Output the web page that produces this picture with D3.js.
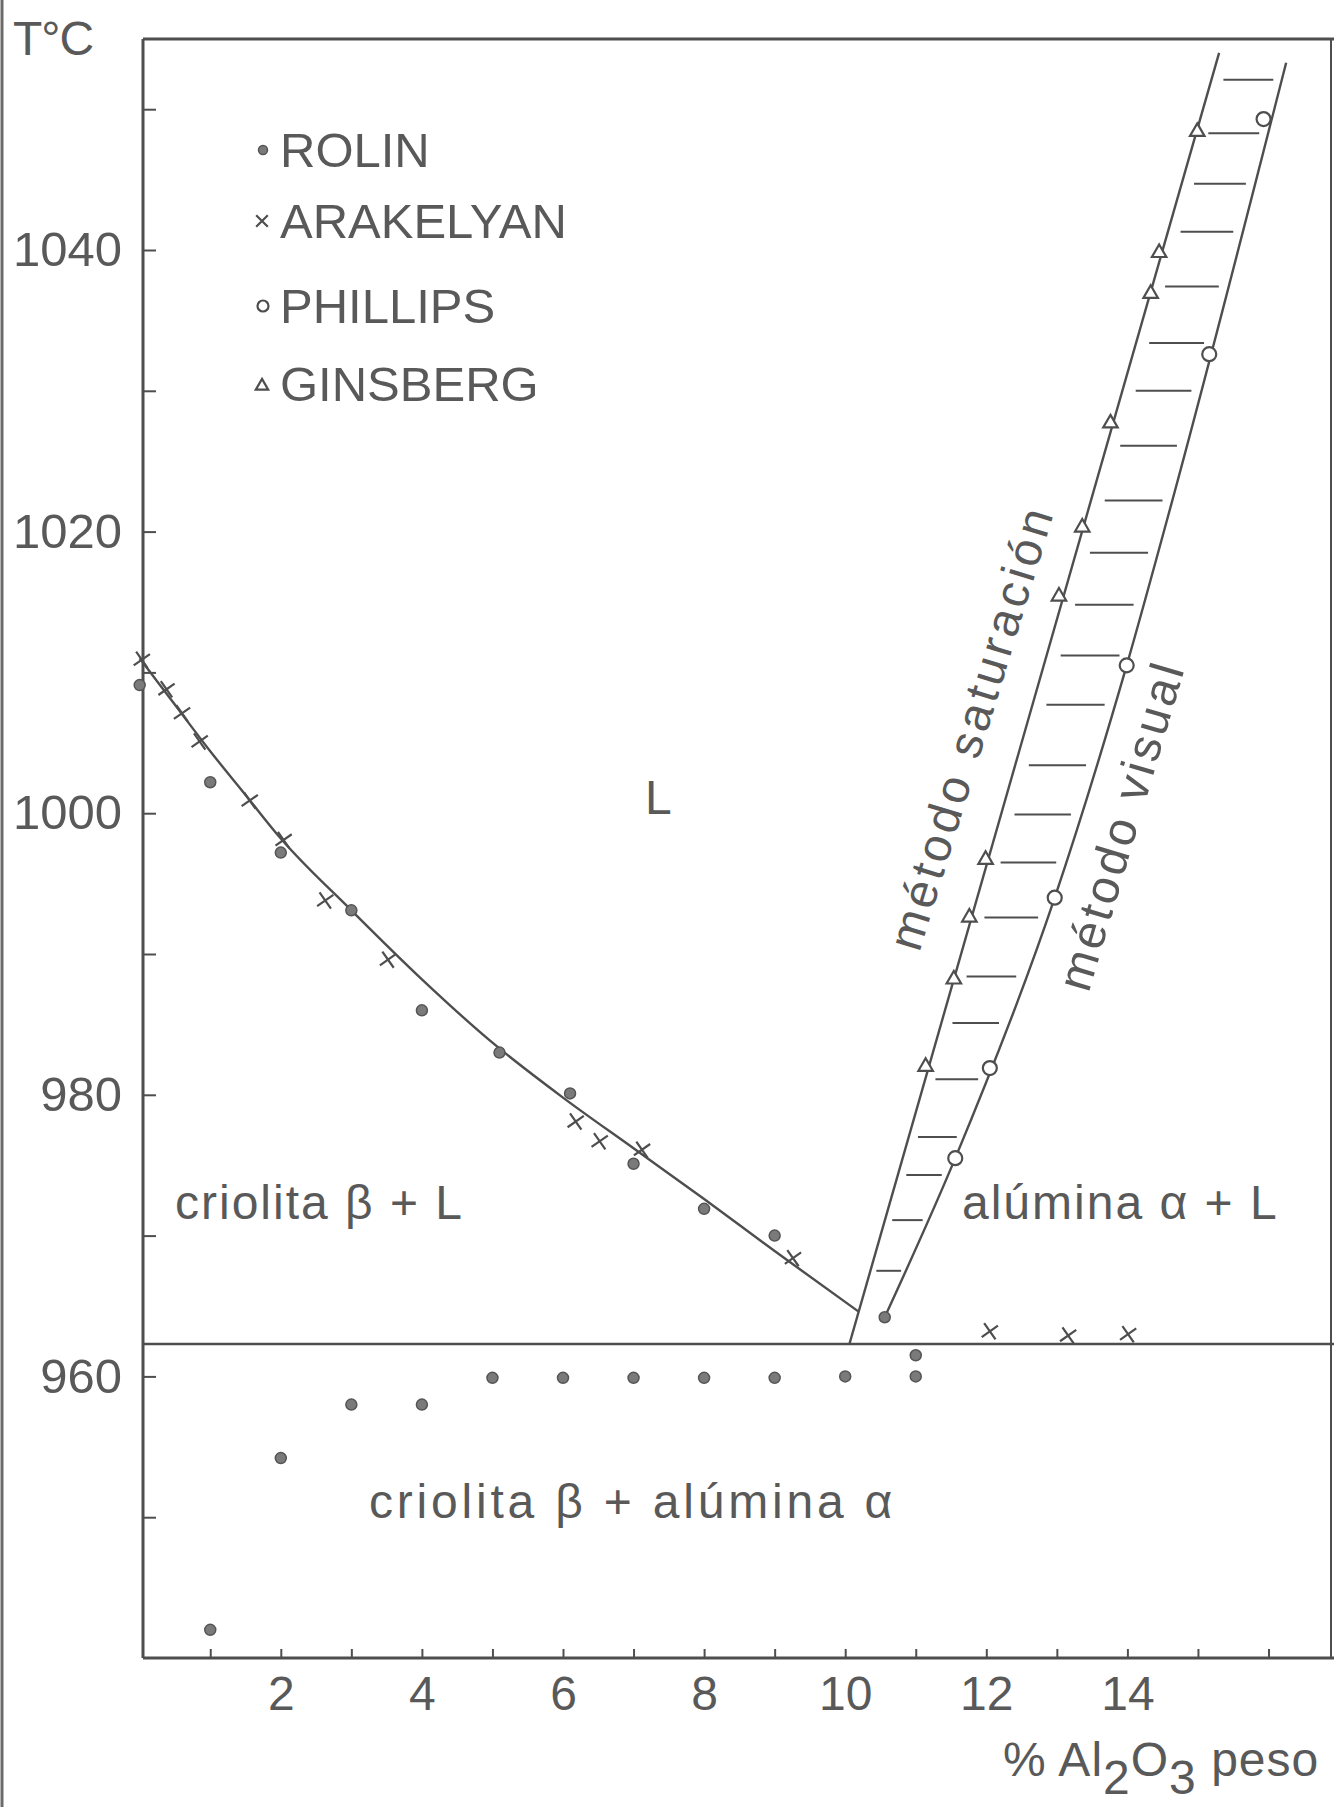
<!DOCTYPE html>
<html>
<head>
<meta charset="utf-8">
<script src="https://cdn.jsdelivr.net/npm/d3@7"></script>
<style>
  html, body { margin: 0; padding: 0; background: #ffffff; }
  svg { display: block; }
  text { font-family: "Liberation Sans", Arial, sans-serif; fill: #595959; }
</style>
</head>
<body>
<svg id="chart" width="1334" height="1807"></svg>
<script>
// ---- Data: NaF-AlF3 (cryolite) / Al2O3 system, wt% Al2O3 vs temperature (°C) ----
const rolin = [
  [0, 1009.1], [1, 1002.2], [2, 997.2], [3, 993.1], [4, 986.0], [5.1, 983.0],
  [6.1, 980.1], [7, 975.1], [8, 971.9], [9, 970.0], [10.56, 964.2],
  [1, 942.0], [2, 954.2], [3, 958.0], [4, 958.0], [5, 959.9], [6, 959.9],
  [7, 959.9], [8, 959.9], [9, 959.9], [10, 960.0], [11, 960.0], [11, 961.5]
];
const arakelyan = [
  [0.03, 1010.9], [0.38, 1008.8], [0.6, 1007.1], [0.85, 1005.1], [1.56, 1000.9],
  [2.04, 998.1], [2.63, 993.8], [3.52, 989.6], [6.18, 978.1], [6.52, 976.7],
  [7.12, 976.1], [9.26, 968.4], [12.05, 963.2], [13.16, 962.9], [14.01, 963.0]
];
const phillips = [
  [11.56, 975.5], [12.05, 981.9], [12.97, 994.0], [13.99, 1010.5], [15.16, 1032.6], [15.93, 1049.3]
];
const ginsberg = [
  [11.14, 982.0], [11.54, 988.2], [11.76, 992.6], [11.99, 996.7], [13.03, 1015.4],
  [13.36, 1020.3], [13.76, 1027.7], [14.33, 1036.9], [14.45, 1039.8], [14.99, 1048.4]
];

// phase boundaries
const liquidus = [
  [0, 1011], [0.5, 1007.7], [1, 1004.4], [1.5, 1001.3], [2, 998.2], [3, 993.1],
  [4, 988.2], [5, 983.7], [6, 979.8], [7, 976.2], [8, 972.6], [9, 968.9], [10.19, 964.6]
];
const saturacion = [[10.06, 962.3], [15.3, 1054.0]];
const visual = [[10.56, 964.2], [11.56, 975.5], [12.97, 994.0], [13.99, 1010.5], [14.62, 1021.9], [16.25, 1053.3]];
const solidusT = 962.3;
const hatchT = [967.5, 971.1, 974.3, 977.0, 981.1, 985.1, 988.4, 992.6, 996.5, 999.9, 1003.4, 1007.7,
                1011.2, 1014.8, 1018.5, 1022.2, 1026.1, 1030.0, 1033.4, 1037.4, 1041.3, 1044.7, 1048.3, 1052.1];

// axes
const yTicks = [950, 960, 970, 980, 990, 1000, 1010, 1020, 1030, 1040, 1050];
const yLabels = [960, 980, 1000, 1020, 1040];
const xTicks = [1, 2, 3, 4, 5, 6, 7, 8, 9, 10, 11, 12, 13, 14, 15, 16];
const xLabels = [2, 4, 6, 8, 10, 12, 14];
const legendNames = ["ROLIN", "ARAKELYAN", "PHILLIPS", "GINSBERG"];

// ---- Layout ----
const svg = d3.select("#chart");
const ink = "#4e4e4e";
const plot = { left: 143, top: 39, right: 1331, bottom: 1658 };

const x = d3.scaleLinear().domain([0, 17]).range([139.7, 139.7 + 17 * 70.55]);
const y = d3.scaleLinear().domain([940, 1040]).range([1658, 250]);

svg.append("rect").attr("width", 1334).attr("height", 1807).attr("fill", "#ffffff");

// edge of the printed sheet
svg.append("line").attr("x1", 2).attr("x2", 2).attr("y1", 0).attr("y2", 1807)
  .attr("stroke", "#6a6a6a").attr("stroke-width", 3);

// frame
const frame = svg.append("g").attr("stroke", ink).attr("stroke-width", 3).attr("fill", "none");
frame.append("line").attr("x1", plot.left).attr("x2", plot.left).attr("y1", plot.top).attr("y2", plot.bottom);
frame.append("line").attr("x1", plot.left).attr("x2", 1334).attr("y1", plot.bottom).attr("y2", plot.bottom);
frame.append("line").attr("x1", plot.left).attr("x2", 1334).attr("y1", plot.top).attr("y2", plot.top);
frame.append("line").attr("x1", plot.right).attr("x2", plot.right).attr("y1", plot.top).attr("y2", plot.bottom)
  .attr("stroke-width", 2);

// y axis (ticks point inward)
const gy = svg.append("g").attr("transform", `translate(${plot.left},0)`)
  .call(d3.axisLeft(y).tickValues(yTicks).tickSize(-13).tickPadding(21)
    .tickFormat(d => yLabels.includes(d) ? String(d) : ""));
gy.select(".domain").remove();
gy.selectAll(".tick line").attr("stroke", ink).attr("stroke-width", 2);
gy.selectAll(".tick text").attr("font-size", 49).attr("fill", "#595959")
  .attr("font-family", "Liberation Sans, Arial, sans-serif");

// x axis
const gx = svg.append("g").attr("transform", `translate(0,${plot.bottom})`)
  .call(d3.axisBottom(x).tickValues(xTicks).tickSize(-9).tickPadding(18)
    .tickFormat(d => xLabels.includes(d) ? String(d) : ""));
gx.select(".domain").remove();
gx.selectAll(".tick line").attr("stroke", ink).attr("stroke-width", 2);
gx.selectAll(".tick text").attr("font-size", 48).attr("fill", "#595959")
  .attr("font-family", "Liberation Sans, Arial, sans-serif");

// axis titles
svg.append("text").attr("x", 13).attr("y", 55).attr("font-size", 48).attr("letter-spacing", -1).text("T°C");
const xt = svg.append("text").attr("x", 1003).attr("y", 1776).attr("font-size", 48).attr("letter-spacing", 1);
xt.append("tspan").text("% Al");
xt.append("tspan").attr("dy", 18).text("2");
xt.append("tspan").attr("dy", -18).text("O");
xt.append("tspan").attr("dy", 18).text("3");
xt.append("tspan").attr("dy", -18).text(" peso");

// ---- Phase boundaries ----
const line = d3.line().x(d => x(d[0])).y(d => y(d[1]));
const curves = svg.append("g").attr("fill", "none").attr("stroke", ink).attr("stroke-width", 2.4);

curves.append("path").attr("d", line.curve(d3.curveMonotoneX)(liquidus));
curves.append("path").attr("d", line.curve(d3.curveLinear)(saturacion));
curves.append("path").attr("d", line.curve(d3.curveMonotoneX)(visual));
curves.append("line")
  .attr("x1", plot.left).attr("x2", 1334)
  .attr("y1", y(solidusT)).attr("y2", y(solidusT)).attr("stroke-width", 2.6);

// hatching between the two alumina-solubility curves
const satAt = d3.scaleLinear().domain(saturacion.map(d => d[1])).range(saturacion.map(d => d[0]));
const visAt = d3.scaleLinear().domain(visual.map(d => d[1])).range(visual.map(d => d[0]));
svg.append("g").attr("stroke", ink).attr("stroke-width", 2)
  .selectAll("line").data(hatchT).join("line")
  .each(function (t) {
    const a = x(satAt(t)), b = x(visAt(t)), gap = b - a;
    d3.select(this)
      .attr("x1", a + 0.17 * gap).attr("x2", b - 0.12 * gap)
      .attr("y1", y(t)).attr("y2", y(t));
  });

// ---- Markers ----
const pts = svg.append("g");
const symTimes = d3.symbolTimes || d3.symbolCross;
const symTri = d3.symbolTriangle2 || d3.symbolTriangle;

function drawRolin(sel) {
  sel.attr("r", 5.5).attr("fill", "#7a7a7a").attr("stroke", "#555").attr("stroke-width", 1.5);
}
function drawArakelyan(sel) {
  sel.attr("d", d3.symbol(symTimes, 130)()).attr("fill", "none").attr("stroke", ink).attr("stroke-width", 2.2);
}
function drawPhillips(sel) {
  sel.attr("r", 7).attr("fill", "#ffffff").attr("stroke", ink).attr("stroke-width", 2.2);
}
function drawGinsberg(sel) {
  sel.attr("d", d3.symbol(symTri, 150)()).attr("fill", "#ffffff").attr("stroke", ink).attr("stroke-width", 2.2);
}

pts.selectAll(".rolin").data(rolin).join("circle").attr("class", "rolin")
  .attr("cx", d => x(d[0])).attr("cy", d => y(d[1])).call(drawRolin);
pts.selectAll(".arak").data(arakelyan).join("path").attr("class", "arak")
  .attr("transform", d => `translate(${x(d[0])},${y(d[1])}) rotate(10)`).call(drawArakelyan);
pts.selectAll(".phil").data(phillips).join("circle").attr("class", "phil")
  .attr("cx", d => x(d[0])).attr("cy", d => y(d[1])).call(drawPhillips);
pts.selectAll(".gins").data(ginsberg).join("path").attr("class", "gins")
  .attr("transform", d => `translate(${x(d[0])},${y(d[1])})`).call(drawGinsberg);

// ---- Legend ----
const legendBase = [167, 238, 323, 401];
const lg = svg.append("g");
legendNames.forEach((name, i) => {
  const cy = legendBase[i] - 17;
  if (i === 0) lg.append("circle").attr("cx", 263).attr("cy", cy).call(drawRolin).attr("r", 4.5);
  if (i === 1) lg.append("path").attr("transform", `translate(262,${cy})`).call(drawArakelyan)
    .attr("d", d3.symbol(symTimes, 90)());
  if (i === 2) lg.append("circle").attr("cx", 263).attr("cy", cy).call(drawPhillips).attr("r", 5.5);
  if (i === 3) lg.append("path").attr("transform", `translate(262,${cy + 2})`).call(drawGinsberg)
    .attr("d", d3.symbol(symTri, 110)());
  lg.append("text").attr("x", 280).attr("y", legendBase[i]).attr("font-size", 49).text(name);
});

// ---- Region labels ----
const labels = svg.append("g").attr("font-size", 48);
labels.append("text").attr("x", 645).attr("y", 814).text("L");
labels.append("text").attr("x", 175).attr("y", 1219).attr("letter-spacing", 2).text("criolita β + L");
labels.append("text").attr("x", 962).attr("y", 1219).attr("letter-spacing", 2).text("alúmina α + L");
labels.append("text").attr("x", 369).attr("y", 1518).attr("letter-spacing", 3.8).text("criolita β + alúmina α");
labels.append("text").attr("text-anchor", "middle").attr("letter-spacing", 4)
  .attr("transform", "translate(987,732) rotate(-73)").text("método saturación");
labels.append("text").attr("text-anchor", "middle").attr("letter-spacing", 3.5)
  .attr("transform", "translate(1137,830) rotate(-73.5)").text("método visual");
</script>
</body>
</html>
